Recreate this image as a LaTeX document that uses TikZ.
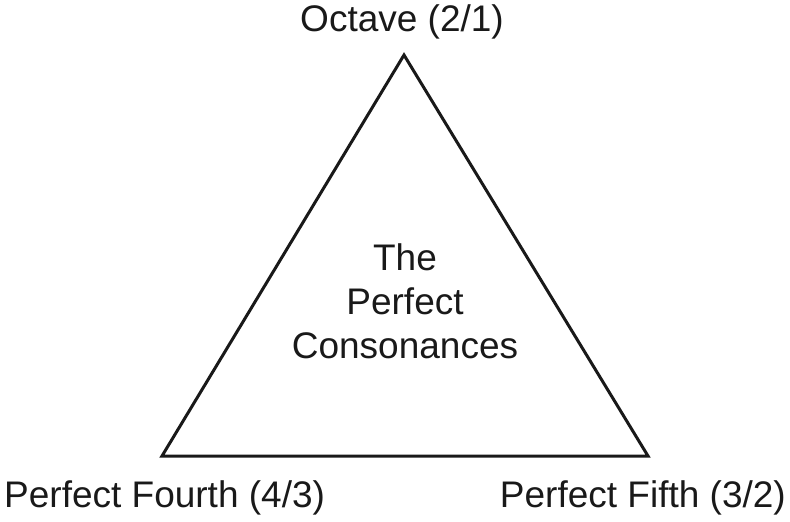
\documentclass[tikz,border=0pt]{standalone}
\usepackage{fontspec}
\setmainfont{Liberation Sans}
\begin{document}
\begin{tikzpicture}[x=1bp,y=-1bp,
  lbl/.style={inner sep=0pt,font=\fontsize{37bp}{43.5bp}\selectfont,text=black!90},
  tri/.style={draw=black!90,line width=3bp,line join=miter}]
\useasboundingbox (0,0) rectangle (790,522);
\coordinate (A) at (404,55);
\coordinate (B) at (162,456);
\coordinate (C) at (648,456);
\draw[tri] (A) -- (B) -- (C) -- cycle;
\node[lbl,anchor=base] (oct) at (402,32) {Octave (2/1)};
\node[lbl,anchor=base west] (fourth) at (4,507.5) {Perfect Fourth (4/3)};
\node[lbl,anchor=base east] (fifth) at (786,507.5) {Perfect Fifth (3/2)};
\node[lbl,anchor=base,align=center] (center) at (405,358) {The\\Perfect\\Consonances};
\end{tikzpicture}
\end{document}
